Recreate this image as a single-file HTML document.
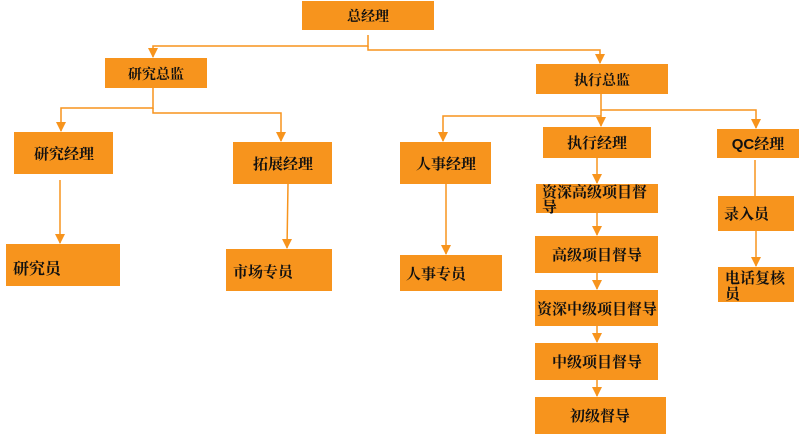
<!DOCTYPE html>
<html><head><meta charset="utf-8"><style>
body{margin:0;background:#fff;}
svg text{font-family:"Liberation Sans","Noto Serif CJK SC","Noto Sans CJK SC",serif;font-weight:bold;fill:#111;}
</style></head><body>
<svg width="800" height="435" viewBox="0 0 800 435" xmlns="http://www.w3.org/2000/svg">
<defs><marker id="a" markerWidth="10" markerHeight="10" refX="5" refY="9" orient="0" markerUnits="userSpaceOnUse" overflow="visible"><path d="M0,0 L10,0 L5,10 Z" fill="#f7941d"/></marker></defs>
<g fill="#f7941d">
<rect x="302" y="1" width="132" height="29"/>
<rect x="105" y="58" width="102" height="30"/>
<rect x="536" y="64" width="132" height="30"/>
<rect x="14" y="132" width="99" height="42"/>
<rect x="233" y="142" width="99" height="42"/>
<rect x="6" y="244" width="114" height="42"/>
<rect x="226" y="249" width="106" height="42"/>
<rect x="400" y="142" width="91" height="42"/>
<rect x="400" y="255" width="102" height="36"/>
<rect x="543" y="127" width="108" height="31"/>
<rect x="536" y="184" width="122" height="29"/>
<rect x="535" y="236" width="123" height="37"/>
<rect x="535" y="290" width="123" height="36"/>
<rect x="535" y="343" width="123" height="37"/>
<rect x="535" y="397" width="131" height="37"/>
<rect x="717" y="129" width="82" height="29"/>
<rect x="718" y="196" width="76" height="35"/>
<rect x="718" y="267" width="76" height="35"/>
</g>
<g stroke="#f7941d" stroke-width="1.5" fill="none">
<path d="M368 35 V46 H153 V57" marker-end="url(#a)"/>
<path d="M368 46 V50 H600 V63" marker-end="url(#a)"/>
<path d="M153 88 V108 H61 V131" marker-end="url(#a)"/>
<path d="M153 108 V113 H281 V141" marker-end="url(#a)"/>
<path d="M60 180 V243" marker-end="url(#a)"/>
<path d="M288 184 L287 248" marker-end="url(#a)"/>
<path d="M601 94 V126" marker-end="url(#a)"/>
<path d="M601 116 H443 V141" marker-end="url(#a)"/>
<path d="M601 110 H756 V128" marker-end="url(#a)"/>
<path d="M446 184 V254" marker-end="url(#a)"/>
<path d="M597 158 V183" marker-end="url(#a)"/>
<path d="M597 213 V235" marker-end="url(#a)"/>
<path d="M597 273 V289" marker-end="url(#a)"/>
<path d="M597 326 V342" marker-end="url(#a)"/>
<path d="M597 380 V396" marker-end="url(#a)"/>
<path d="M755 160 V196"/>
<path d="M756 231 V266" marker-end="url(#a)"/>
</g>
<g font-size="15">
<text x="368" y="21" text-anchor="middle" font-size="14">总经理</text>
<text x="156" y="79" text-anchor="middle" font-size="14">研究总监</text>
<text x="602" y="85" text-anchor="middle" font-size="14">执行总监</text>
<text x="64" y="159" text-anchor="middle">研究经理</text>
<text x="283" y="169" text-anchor="middle">拓展经理</text>
<text x="13" y="274" font-size="16">研究员</text>
<text x="233" y="277">市场专员</text>
<text x="446" y="169" text-anchor="middle">人事经理</text>
<text x="406" y="279">人事专员</text>
<text x="597" y="148" text-anchor="middle">执行经理</text>
<text x="542" y="197">资深高级项目督</text>
<text x="542" y="212">导</text>
<text x="597" y="260" text-anchor="middle">高级项目督导</text>
<text x="597" y="314" text-anchor="middle">资深中级项目督导</text>
<text x="597" y="367" text-anchor="middle">中级项目督导</text>
<text x="600" y="421" text-anchor="middle">初级督导</text>
<text x="758" y="149" text-anchor="middle">QC经理</text>
<text x="724" y="219">录入员</text>
<text x="725" y="283">电话复核</text>
<text x="725" y="299">员</text>
</g>
</svg>
</body></html>
